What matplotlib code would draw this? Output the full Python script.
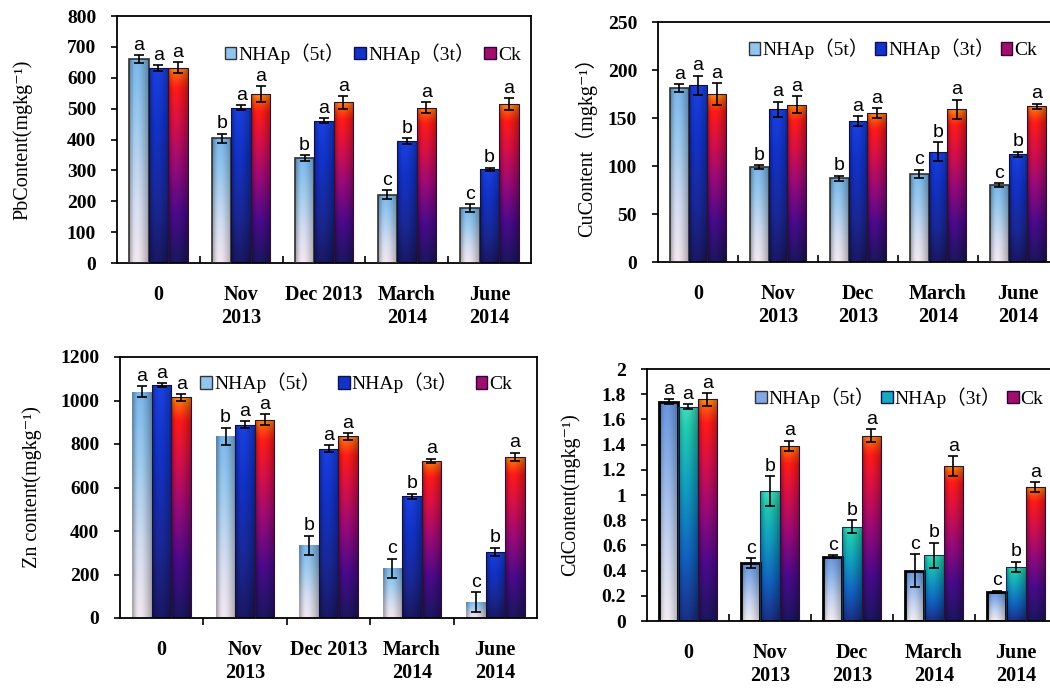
import numpy as np
import matplotlib
matplotlib.use("Agg")
import matplotlib.pyplot as plt
from matplotlib.colors import LinearSegmentedColormap
from matplotlib.patches import Rectangle

plt.rcParams['font.family'] = ['Liberation Serif', 'Noto Sans CJK SC', 'DejaVu Sans']

series = ['NHAp（5t）', 'NHAp（3t）', 'Ck']
labels_a = ['0', 'Nov\n2013', 'Dec 2013', 'March\n2014', 'June\n2014']
labels_b = ['0', 'Nov\n2013', 'Dec\n2013', 'March\n2014', 'June\n2014']

# Pb
pb_5t = [661, 404, 340, 221, 178]
pb_3t = [631, 503, 461, 394, 304]
pb_ck = [632, 547, 520, 503, 514]
pb_5t_err = [12, 15, 10, 15, 12]
pb_3t_err = [10, 8, 8, 10, 5]
pb_ck_err = [18, 25, 20, 18, 20]
pb_sig = [['a', 'b', 'b', 'c', 'c'], ['a', 'a', 'a', 'b', 'b'], ['a', 'a', 'a', 'a', 'a']]

# Cu
cu_5t = [181, 99, 87, 92, 80]
cu_3t = [184, 159, 147, 115, 112]
cu_ck = [175, 164, 155, 159, 162]
cu_5t_err = [4, 2, 3, 4, 2]
cu_3t_err = [10, 8, 5, 10, 3]
cu_ck_err = [11, 9, 5, 10, 3]
cu_sig = [['a', 'b', 'b', 'c', 'c'], ['a', 'a', 'a', 'b', 'b'], ['a', 'a', 'a', 'a', 'a']]

# Zn
zn_5t = [1040, 835, 334, 228, 74]
zn_3t = [1070, 889, 779, 559, 303]
zn_ck = [1015, 912, 835, 723, 740]
zn_5t_err = [25, 40, 45, 45, 45]
zn_3t_err = [10, 15, 15, 12, 20]
zn_ck_err = [15, 25, 15, 10, 20]
zn_sig = [['a', 'b', 'b', 'c', 'c'], ['a', 'a', 'a', 'b', 'b'], ['a', 'a', 'a', 'a', 'a']]

# Cd
cd_5t = [1.74, 0.46, 0.51, 0.40, 0.23]
cd_3t = [1.70, 1.03, 0.75, 0.52, 0.43]
cd_ck = [1.76, 1.39, 1.47, 1.23, 1.06]
cd_5t_err = [0.02, 0.04, 0.01, 0.13, 0.01]
cd_3t_err = [0.02, 0.12, 0.05, 0.10, 0.04]
cd_ck_err = [0.05, 0.04, 0.05, 0.08, 0.04]
cd_sig = [['a', 'c', 'c', 'c', 'c'], ['a', 'b', 'b', 'b', 'b'], ['a', 'a', 'a', 'a', 'a']]

cm_5t = LinearSegmentedColormap.from_list('c5', [(0, '#f2e8f0'), (0.3, '#d6def2'), (0.7, '#9ccaf0'), (1, '#7cb8ec')])
cm_5t_cd = LinearSegmentedColormap.from_list('c5d', [(0, '#f2ecf2'), (0.35, '#c6d4f0'), (0.75, '#88aee8'), (1, '#6a96de')])
cm_3t = LinearSegmentedColormap.from_list('c3', [(0, '#1a1866'), (0.3, '#1a2896'), (0.7, '#1232c8'), (1, '#1a40e0')])
cm_3t_cd = LinearSegmentedColormap.from_list('c3d', [(0, '#1a3088'), (0.3, '#1262c2'), (0.65, '#12a2c0'), (0.9, '#22cab0'), (1, '#40dcc0')])
cm_ck = LinearSegmentedColormap.from_list('ck', [(0, '#1c1660'), (0.25, '#4a0a8c'), (0.5, '#9a0a78'),
                                                 (0.72, '#d81048'), (0.9, '#ff1a18'), (0.97, '#ff5a10'), (1, '#ff8a10')])

shade = np.array([0.72, 0.86, 0.97, 1.0, 1.0, 0.97, 0.92, 0.86, 0.8, 0.72])


def grad_bar(ax, x, h, w, cmap, edge, lw):
    bar = ax.bar(x, h, w, color='none', edgecolor=edge, linewidth=lw, zorder=3)[0]
    v = np.linspace(0, 1, 80)[:, None]
    rgb = cmap(v)[:, :, :3] * shade[None, :, None]
    rgb = np.clip(rgb, 0, 1)
    im = ax.imshow(rgb, extent=[x - w / 2, x + w / 2, 0, h], origin='lower',
                   aspect='auto', interpolation='bilinear', zorder=2)
    im.set_clip_path(bar)


def panel(rect, vals, errs, sig, cmaps, edges, ymax, ystep, yfmt, ylabel, xlabels, tickdir,
          leg_anchor, colsp, ylab_x):
    ax = fig.add_axes(rect)
    x = np.arange(5)
    w = 0.235
    for k in range(3):
        xs = x + (k - 1) * w
        for i in range(5):
            grad_bar(ax, xs[i], vals[k][i], w, cmaps[k], edges[k][0], edges[k][1])
        ax.errorbar(xs, vals[k], yerr=errs[k], fmt='none', ecolor='black', elinewidth=1.2,
                    capsize=3.5, capthick=1.2, zorder=4)
        for i in range(5):
            ax.annotate(sig[k][i], (xs[i], vals[k][i] + errs[k][i]), xytext=(0, 1),
                        textcoords='offset points', ha='center', va='bottom',
                        fontsize=14, family='Liberation Sans', zorder=5)
    ax.set_xlim(-0.5, 4.5)
    ax.set_ylim(0, ymax)
    ax.set_yticks(np.arange(0, ymax + ystep / 2, ystep))
    ax.set_yticklabels([yfmt(t) for t in np.arange(0, ymax + ystep / 2, ystep)])
    ax.set_xticks(x)
    ax.set_xticklabels(xlabels, linespacing=1.2)
    ax.set_xticks(np.arange(0.5, 4.5, 1), minor=True)
    ax.tick_params(axis='x', which='major', length=0, pad=16, labelsize=14.5)
    ax.tick_params(axis='x', which='minor', length=5, width=1.2, direction=tickdir)
    ax.tick_params(axis='y', length=4, width=1.2, pad=11, labelsize=14)
    for t in ax.get_xticklabels() + ax.get_yticklabels():
        t.set_fontweight('bold')
    for s in ax.spines.values():
        s.set_linewidth(1.3)
    ax.set_ylabel(ylabel, fontsize=14.5)
    ax.yaxis.set_label_coords(ylab_x, 0.5)
    handles = [Rectangle((0, 0), 1, 1, facecolor=c, edgecolor=e, linewidth=1.0)
               for c, e in [(cmaps[0](0.8), '#333333'), (cmaps[1](0.7), '#101050'), ('#a0106a', '#300040')]]
    ax.legend(handles, series, loc='upper left', bbox_to_anchor=leg_anchor, ncol=3, frameon=False,
              fontsize=14, handlelength=0.6, handleheight=0.6, handletextpad=0.1,
              columnspacing=colsp, borderaxespad=0, borderpad=0)
    return ax


fig = plt.figure(figsize=(10.5, 6.89), dpi=100)

e_norm = [('#303030', 1.2), ('#101040', 0.8), ('#301030', 0.8)]
e_zn = [('none', 0), ('#101040', 0.8), ('#301030', 0.8)]
e_cd = [('black', 2.0), ('#103060', 0.8), ('#301030', 0.8)]

panel([117 / 1050, 1 - 263 / 689, 414 / 1050, 247 / 689],
      [pb_5t, pb_3t, pb_ck], [pb_5t_err, pb_3t_err, pb_ck_err], pb_sig,
      [cm_5t, cm_3t, cm_ck], e_norm, 800, 100, lambda t: '%d' % t,
      'PbContent(mgkg⁻¹)', labels_a, 'in', (0.26, 0.89), 0.5, -0.205)

panel([658 / 1050, 1 - 262 / 689, 400 / 1050, 240 / 689],
      [cu_5t, cu_3t, cu_ck], [cu_5t_err, cu_3t_err, cu_ck_err], cu_sig,
      [cm_5t, cm_3t, cm_ck], e_norm, 250, 50, lambda t: '%d' % t,
      'CuContent（mgkg⁻¹）', labels_b, 'in', (0.227, 0.93), 0.3, -0.152)

panel([120 / 1050, 1 - 618 / 689, 417 / 1050, 261 / 689],
      [zn_5t, zn_3t, zn_ck], [zn_5t_err, zn_3t_err, zn_ck_err], zn_sig,
      [cm_5t, cm_3t, cm_ck], e_zn, 1200, 200, lambda t: '%d' % t,
      'Zn content(mgkg⁻¹)', labels_a, 'out', (0.193, 0.94), 0.9, -0.187)

panel([647 / 1050, 1 - 621 / 689, 410 / 1050, 252 / 689],
      [cd_5t, cd_3t, cd_ck], [cd_5t_err, cd_3t_err, cd_ck_err], cd_sig,
      [cm_5t_cd, cm_3t_cd, cm_ck], e_cd, 2, 0.2, lambda t: ('%.1f' % t).rstrip('0').rstrip('.') if t else '0',
      'CdContent(mgkg⁻¹)', labels_b, 'in', (0.264, 0.928), 0.3, -0.163)

fig.savefig('out.png', dpi=100)
